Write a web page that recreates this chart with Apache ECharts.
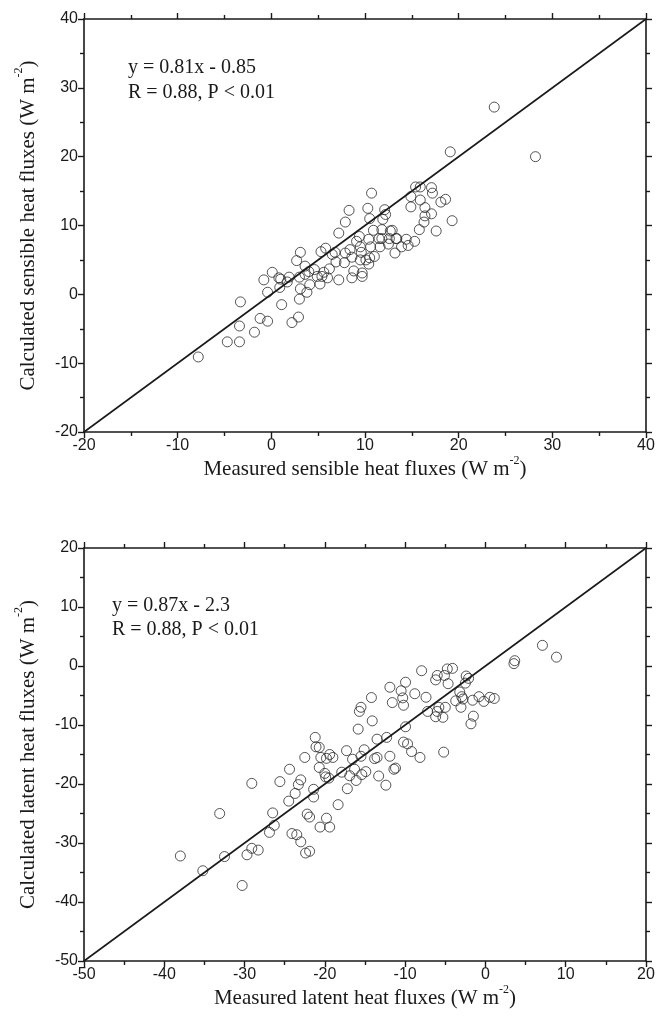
<!DOCTYPE html>
<html>
<head>
<meta charset="utf-8">
<script src="https://cdn.jsdelivr.net/npm/echarts@6/dist/echarts.min.js"></script>
<style>
  html, body { margin: 0; padding: 0; background: #fff; }
  #chart { width: 668px; height: 1030px; }
</style>
</head>
<body>
<div id="chart"></div>
<script>
// ---- sensible heat fluxes (top panel) ----
var sensMeasured = [-7.8, -4.7, -3.4, -3.4, -3.3, -1.8, -1.2, -0.4, -0.8, -0.4, 0.1, 0.8, 0.9, 1.1, 1.7, 1.9, 2.2, 2.7, 3.1, 3.0,
  3.0, 2.9, 3.1, 3.6, 3.6, 3.8, 4.1, 4.0, 4.6, 4.9, 5.2, 5.3, 5.6, 5.8, 6.0, 6.2, 6.5, 6.8, 7.2, 6.9,
  7.2, 7.8, 7.9, 8.3, 7.9, 8.4, 8.6, 8.6, 8.8, 9.1, 9.4, 9.5, 9.5, 9.7, 9.7, 10.1, 10.3, 10.5, 10.4, 10.4,
  10.7, 10.6, 11.0, 10.9, 11.6, 11.8, 11.9, 11.8, 12.1, 12.2, 12.5, 12.7, 12.9, 13.2, 13.4, 13.9, 14.4, 14.9, 14.9, 15.3,
  15.4, 15.9, 15.8, 15.9, 16.3, 16.4, 16.4, 17.1, 17.1, 17.2, 17.6, 18.1, 18.6, 19.1, 19.3, 23.8, 28.2, 12.6, 13.3, 14.6,
  11.5, 9.6, 10.5, 5.4, 1.0];
var sensCalculated = [-9.1, -6.9, -6.9, -4.6, -1.1, -5.5, -3.5, -3.9, 2.1, 0.3, 3.2, 2.4, 1.0, -1.5, 1.8, 2.5, -4.1, 4.9, 6.1, 2.5,
  -0.7, -3.3, 0.8, 2.9, 4.1, 0.3, 1.4, 3.3, 3.6, 2.6, 1.5, 6.2, 3.2, 6.7, 2.4, 3.7, 5.8, 6.1, 8.9, 4.7,
  2.1, 4.6, 10.5, 12.2, 6.0, 6.5, 5.4, 2.4, 3.4, 7.7, 8.4, 6.9, 5.0, 3.1, 2.6, 5.0, 12.5, 11.0, 8.0, 4.4,
  14.7, 6.9, 5.5, 9.3, 6.9, 8.1, 10.9, 9.4, 12.3, 11.6, 7.3, 9.2, 9.3, 6.0, 8.1, 6.9, 8.0, 12.7, 14.2, 7.7,
  15.6, 15.6, 9.4, 13.7, 10.5, 12.6, 11.4, 11.7, 15.5, 14.7, 9.2, 13.4, 13.8, 20.7, 10.7, 27.2, 20.0, 8.1, 8.1, 7.1,
  8.1, 6.1, 5.3, 2.6, 2.2];

// ---- latent heat fluxes (bottom panel) ----
var latMeasured = [-38.0, -35.2, -32.5, -33.1, -30.3, -29.7, -29.1, -29.1, -28.3, -26.9, -26.5, -26.3, -25.6, -24.4, -24.5, -24.1, -23.7, -23.5, -23.3, -23.0,
  -23.0, -22.5, -22.4, -22.2, -21.9, -21.9, -21.4, -21.4, -21.2, -21.1, -20.7, -20.7, -20.6, -20.5, -20.0, -19.9, -19.8, -19.8, -19.5, -19.4,
  -19.4, -19.0, -18.35, -17.9, -17.3, -17.2, -16.9, -16.55, -16.3, -16.1, -15.85, -15.7, -15.5, -15.5, -15.4, -15.1, -14.9, -14.2, -14.1, -13.8,
  -13.5, -13.5, -13.3, -12.4, -12.3, -11.9, -11.9, -11.6, -11.4, -11.2, -10.5, -10.3, -10.2, -10.2, -9.95, -9.95, -9.7, -9.2, -8.8, -8.15,
  -7.95, -7.4, -7.2, -6.2, -6.0, -6.2, -6.0, -5.8, -5.3, -5.2, -5.1, -5.0, -4.75, -4.65, -4.1, -3.7, -3.2, -3.05, -2.95, -2.8,
  -2.5, -2.4, -2.1, -1.8, -1.6, -1.5, -0.8, -0.2, 0.55, 1.1, 3.55, 3.65, 7.1, 8.85];
var latCalculated = [-32.2, -34.7, -32.3, -25.0, -37.2, -32.0, -30.9, -19.9, -31.2, -28.2, -24.9, -27.0, -19.6, -17.5, -22.9, -28.4, -21.6, -28.6, -20.1, -29.8,
  -19.3, -15.5, -31.7, -25.1, -31.4, -25.6, -20.9, -22.2, -12.1, -13.7, -17.2, -13.8, -27.3, -15.5, -18.2, -18.8, -15.65, -25.8, -19.0, -27.3,
  -15.0, -15.5, -23.5, -18.0, -14.35, -20.8, -18.6, -15.8, -17.5, -19.4, -10.7, -7.7, -7.0, -15.3, -18.4, -14.2, -17.9, -5.35, -9.3, -15.7,
  -15.5, -12.4, -18.65, -20.2, -12.1, -3.6, -15.3, -6.2, -17.5, -17.3, -4.2, -5.4, -6.65, -12.9, -2.75, -10.3, -13.2, -14.5, -4.7, -15.5,
  -0.8, -5.3, -7.7, -2.35, -1.6, -8.6, -7.7, -7.0, -8.7, -14.6, -1.6, -7.0, -0.5, -3.0, -0.4, -5.9, -4.4, -7.0, -5.2, -5.6,
  -2.9, -1.7, -2.1, -9.8, -5.8, -8.5, -5.2, -6.0, -5.3, -5.5, 0.4, 0.9, 3.5, 1.5];

var sensRange = [-20, 40];
var latRange = [-50, 20];

function zipPairs(xs, ys) {
  var out = [];
  for (var i = 0; i < xs.length; i++) out.push([xs[i], ys[i]]);
  return out;
}

var chart = echarts.init(document.getElementById('chart'), null, { renderer: 'canvas' });

var lineCol = '#1a1a1a';
var sansFont = '"Liberation Sans", Arial, sans-serif';
var serifFont = '"Liberation Serif", "Times New Roman", serif';

var nameStyle = {
  fontFamily: serifFont, fontSize: 21, color: '#1a1a1a',
  rich: {
    t: { fontFamily: serifFont, fontSize: 21, color: '#1a1a1a' },
    sup: { fontFamily: serifFont, fontSize: 12, color: '#1a1a1a', verticalAlign: 'top', lineHeight: 30 }
  }
};

function makeAxis(range, pos, gridIndex, showLabel, name) {
  return {
    type: 'value', gridIndex: gridIndex, position: pos,
    min: range[0], max: range[1], interval: 10,
    splitLine: { show: false },
    axisLine: { show: true, onZero: false, lineStyle: { color: lineCol, width: 1.6 } },
    axisTick: { show: true, inside: false, length: 6, lineStyle: { color: lineCol, width: 1.4 } },
    minorTick: { show: true, splitNumber: 2, length: 4, lineStyle: { color: lineCol, width: 1.4 } },
    axisLabel: {
      show: showLabel, margin: 6, fontFamily: sansFont, fontSize: 16, color: '#1a1a1a'
    },
    name: name || '',
    nameLocation: 'middle',
    nameGap: (pos === 'left') ? 41 : 22,
    nameRotate: (pos === 'left') ? 90 : 0,
    nameTextStyle: nameStyle
  };
}

var option = {
  animation: false,
  backgroundColor: '#fff',
  grid: [
    { left: 84, top: 19, width: 562, height: 413 },
    { left: 84, top: 548, width: 562, height: 413 }
  ],
  xAxis: [
    makeAxis(sensRange, 'bottom', 0, true, '{t|Measured sensible heat fluxes (W m}{sup|-2}{t|)}'),
    makeAxis(sensRange, 'top', 0, false),
    makeAxis(latRange, 'bottom', 1, true, '{t|Measured latent heat fluxes (W m}{sup|-2}{t|)}'),
    makeAxis(latRange, 'top', 1, false)
  ],
  yAxis: [
    makeAxis(sensRange, 'left', 0, true, '{t|Calculated sensible heat fluxes (W m}{sup|-2}{t|)}'),
    makeAxis(sensRange, 'right', 0, false),
    makeAxis(latRange, 'left', 1, true, '{t|Calculated latent heat fluxes (W m}{sup|-2}{t|)}'),
    makeAxis(latRange, 'right', 1, false)
  ],
  graphic: [
    {
      type: 'text', left: 128, top: 55,
      style: { text: 'y = 0.81x - 0.85\nR = 0.88, P < 0.01', font: '20px ' + serifFont, fill: '#1a1a1a', lineHeight: 25 }
    },
    {
      type: 'text', left: 112, top: 594,
      style: { text: 'y = 0.87x - 2.3\nR = 0.88, P < 0.01', font: '20px ' + serifFont, fill: '#1a1a1a', lineHeight: 24 }
    }
  ],
  series: [
    {
      type: 'line', xAxisIndex: 0, yAxisIndex: 0,
      data: [[sensRange[0], sensRange[0]], [sensRange[1], sensRange[1]]],
      symbol: 'none', lineStyle: { color: lineCol, width: 1.6 }, silent: true
    },
    {
      type: 'scatter', xAxisIndex: 0, yAxisIndex: 0,
      data: zipPairs(sensMeasured, sensCalculated),
      symbol: 'circle', symbolSize: 10,
      itemStyle: { color: 'rgba(0,0,0,0)', borderColor: '#2a2a2a', borderWidth: 1 }
    },
    {
      type: 'line', xAxisIndex: 2, yAxisIndex: 2,
      data: [[latRange[0], latRange[0]], [latRange[1], latRange[1]]],
      symbol: 'none', lineStyle: { color: lineCol, width: 1.6 }, silent: true
    },
    {
      type: 'scatter', xAxisIndex: 2, yAxisIndex: 2,
      data: zipPairs(latMeasured, latCalculated),
      symbol: 'circle', symbolSize: 10,
      itemStyle: { color: 'rgba(0,0,0,0)', borderColor: '#2a2a2a', borderWidth: 1 }
    }
  ]
};

chart.setOption(option);
</script>
</body>
</html>
